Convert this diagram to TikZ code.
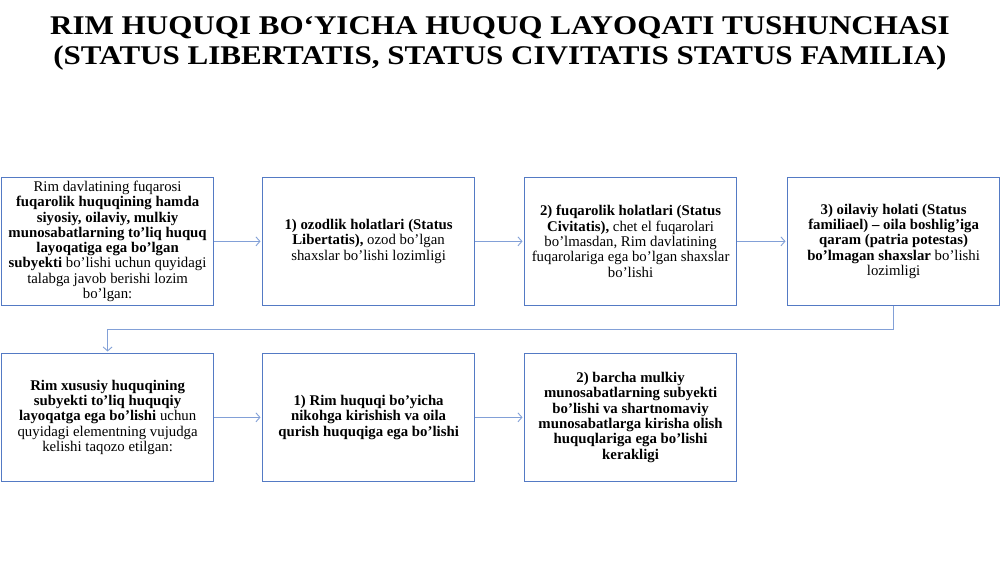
\documentclass[tikz,border=0pt]{standalone}
\usepackage{fontspec}
\setmainfont{Liberation Serif}
\newfontfamily\headfont{Liberation Serif}[FakeStretch=1.15]
\usetikzlibrary{arrows.meta}
\definecolor{boxblue}{RGB}{84,122,196}
\definecolor{linkblue}{RGB}{130,160,215}
\tikzset{
  card/.style={draw=boxblue, line width=1.2pt, minimum width=212pt, minimum height=127.5pt,
    align=center, inner sep=2pt, font=\fontsize{14.8}{15.3}\selectfont, anchor=north west},
  link/.style={draw=linkblue, line width=0.9pt, -{Straight Barb[length=4pt,width=9pt]}, shorten >=1.5pt},
  headline/.style={font=\headfont\fontsize{27}{30}\selectfont\bfseries, align=center, anchor=north, inner sep=0pt}
}
\begin{document}
\begin{tikzpicture}[x=1pt,y=-1pt]
\useasboundingbox[fill=white] (0,0) rectangle (1000,562);
\node[headline] (title) at (500,16.2) {RIM HUQUQI BO‘YICHA HUQUQ LAYOQATI TUSHUNCHASI\\(STATUS LIBERTATIS, STATUS CIVITATIS STATUS FAMILIA)};

\node[card] (b1) at (1,177) {Rim davlatining fuqarosi\\
\textbf{fuqarolik huquqining hamda}\\
\textbf{siyosiy, oilaviy, mulkiy}\\
\textbf{munosabatlarning to’liq huquq}\\
\textbf{layoqatiga ega bo’lgan}\\
\textbf{subyekti} bo’lishi uchun quyidagi\\
talabga javob berishi lozim\\
bo’lgan:};
\node[card] (b2) at (262,177) {\textbf{1) ozodlik holatlari (Status}\\
\textbf{Libertatis),} ozod bo’lgan\\
shaxslar bo’lishi lozimligi};
\node[card] (b3) at (524,177) {\textbf{2) fuqarolik holatlari (Status}\\
\textbf{Civitatis),} chet el fuqarolari\\
bo’lmasdan, Rim davlatining\\
fuqarolariga ega bo’lgan shaxslar\\
bo’lishi};
\node[card] (b4) at (787,177) {\textbf{3) oilaviy holati (Status}\\
\textbf{familiael) – oila boshlig’iga}\\
\textbf{qaram (patria potestas)}\\
\textbf{bo’lmagan shaxslar} bo’lishi\\
lozimligi};

\node[card] (b5) at (1,353) {\textbf{Rim xususiy huquqining}\\
\textbf{subyekti to’liq huquqiy}\\
\textbf{layoqatga ega bo’lishi} uchun\\
quyidagi elementning vujudga\\
kelishi taqozo etilgan:};
\node[card, font=\fontsize{14.8}{15.3}\selectfont\bfseries] (b6) at (262,353) {1) Rim huquqi bo’yicha\\
nikohga kirishish va oila\\
qurish huquqiga ega bo’lishi};
\node[card, font=\fontsize{14.8}{15.3}\selectfont\bfseries] (b7) at (524,353) {2) barcha mulkiy\\
munosabatlarning subyekti\\
bo’lishi va shartnomaviy\\
munosabatlarga kirisha olish\\
huquqlariga ega bo’lishi\\
kerakligi};

\draw[link] (b1.east) -- (b2.west);
\draw[link] (b2.east) -- (b3.west);
\draw[link] (b3.east) -- (b4.west);
\draw[link] (b4.south) -- ++(0,24) -| (b5.north);
\draw[link] (b5.east) -- (b6.west);
\draw[link] (b6.east) -- (b7.west);
\end{tikzpicture}
\end{document}
